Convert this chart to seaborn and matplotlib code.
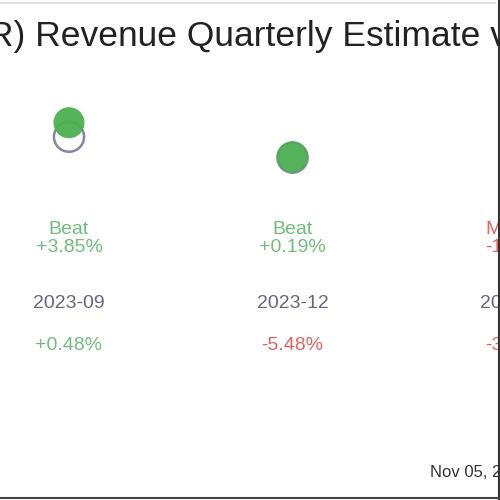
import matplotlib
matplotlib.use("Agg")
import matplotlib.pyplot as plt
import matplotlib.transforms as mtransforms
from matplotlib.lines import Line2D
import pandas as pd
import seaborn as sns


sns.set_theme(style="white")
plt.rcParams['font.family'] = ['Liberation Sans', 'DejaVu Sans']

# Data (revenue in $M)
quarters = ["2023-09", "2023-12", "2024-03"]
estimates = [500.0, 471.3, 505.0]
actuals = [519.25, 472.2, 498.0]
results = ["Beat", "Beat", "Missed"]
surprise = ["+3.85%", "+0.19%", "-1.39%"]
yoy = ["+0.48%", "-5.48%", "-3.12%"]

GREEN = "#4caf50"
RED = "#f44336"
GREEN_TXT = "#6cc07a"
RED_TXT = "#f0605a"
DATE_TXT = "#666680"

df = pd.DataFrame({
    "pos": range(len(quarters)),
    "quarter": quarters,
    "estimate": estimates,
    "actual": actuals,
})

fig = plt.figure(figsize=(5, 5), dpi=100)
ax = fig.add_axes([0, 0.6, 1, 0.24])

# estimate rings behind, actual dots on top
sns.scatterplot(data=df, x="pos", y="estimate", ax=ax, s=470,
                facecolor="none", edgecolor="#8585a5", linewidth=1.8, zorder=2)
actual_colors = [GREEN if r == "Beat" else RED for r in results]
sns.scatterplot(data=df, x="pos", y="actual", ax=ax, s=500,
                color=actual_colors, edgecolor="none", alpha=0.95, zorder=3)

ax.set_xlim(-0.3087, 1.9284)
ax.set_ylim(413, 578)
ax.set_axis_off()

trans = mtransforms.blended_transform_factory(ax.transData, fig.transFigure)
for i, q in enumerate(quarters):
    c = GREEN_TXT if results[i] == "Beat" else RED_TXT
    ax.text(i, 0.542, results[i], transform=trans, ha="center", va="center",
            fontsize=14, color=c, clip_on=False)
    ax.text(i, 0.505, surprise[i], transform=trans, ha="center", va="center",
            fontsize=14, color=c, clip_on=False)
    ax.text(i, 0.394, q, transform=trans, ha="center", va="center",
            fontsize=14, color=DATE_TXT, clip_on=False)
    yc = GREEN_TXT if yoy[i].startswith("+") else RED_TXT
    ax.text(i, 0.31, yoy[i], transform=trans, ha="center", va="center",
            fontsize=14, color=yc, clip_on=False)

fig.text(-0.024, 1 - 46 / 500, "R) Revenue Quarterly Estimate vs Actual",
         ha="left", va="baseline", fontsize=25.5, color="#222222")
fig.text(0.86, 1 - 477 / 500, "Nov 05, 2024", ha="left", va="baseline",
         fontsize=12, color="#333333")

# frame remnants
fig.add_artist(Line2D([0, 0.99], [0.994, 0.994], transform=fig.transFigure,
                      color="#e0e0e0", linewidth=1.5))
fig.add_artist(Line2D([0.997, 0.997], [0, 1], transform=fig.transFigure,
                      color="#333333", linewidth=1.5))
fig.add_artist(Line2D([0, 1], [0.004, 0.004], transform=fig.transFigure,
                      color="#444444", linewidth=1.5))

fig.savefig("out.png", dpi=100)
plt.close(fig)
